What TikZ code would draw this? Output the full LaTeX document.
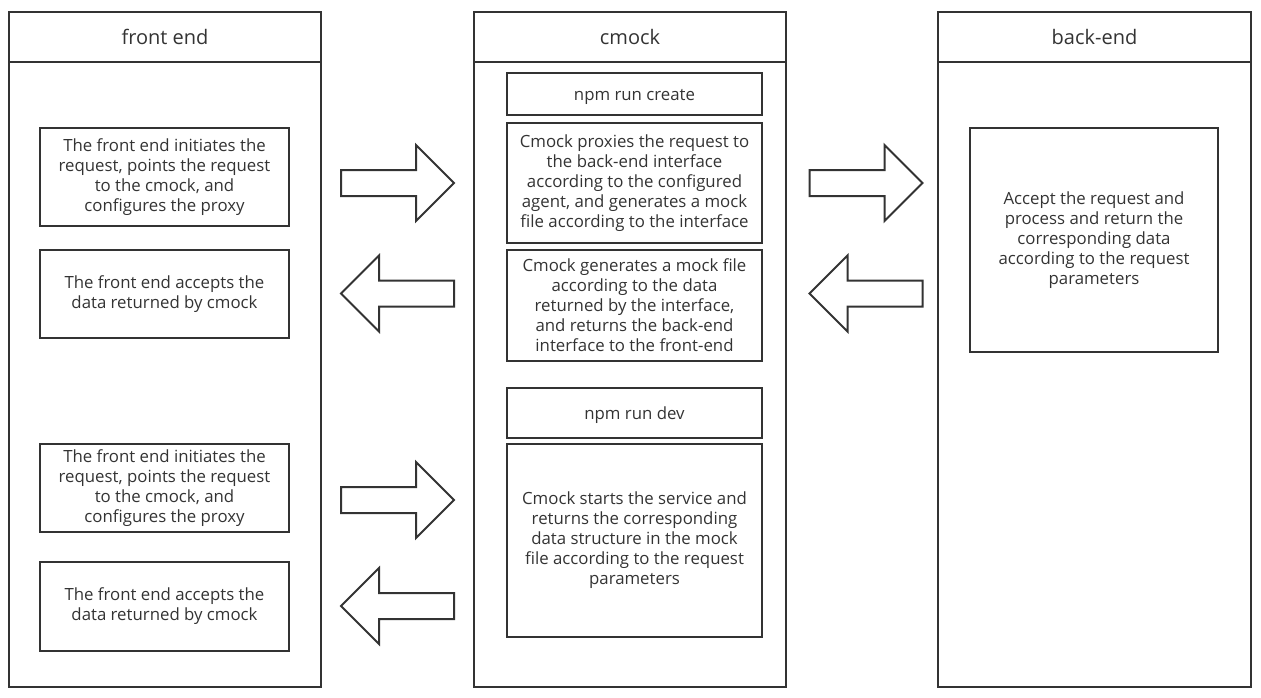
\documentclass[tikz,border=0pt]{standalone}
\usepackage{fontspec}
\setmainfont{Open Sans}
\usetikzlibrary{positioning}
\definecolor{ink}{HTML}{333333}

\tikzset{
  lane/.style={draw=ink, line width=2pt, minimum width=312pt, inner sep=0pt, text=ink,
    font=\fontsize{20}{24}\selectfont},
  stepbox/.style={draw=ink, line width=2pt, align=center, inner sep=0pt, text=ink,
    font=\fontsize{16.8}{20}\selectfont, execute at begin node={\rule{0pt}{17pt}}},
  arrowline/.style={draw=ink, line width=2pt, line join=miter},
  rarrow/.pic={\draw[arrowline] (0,-13) -- (75,-13) -- (75,-38) -- (113,0) -- (75,38) -- (75,13) -- (0,13) -- cycle;},
  larrow/.pic={\draw[arrowline] (0,0) -- (38,-38) -- (38,-13) -- (113,-13) -- (113,13) -- (38,13) -- (38,38) -- cycle;}
}

\begin{document}
\begin{tikzpicture}[x=1pt, y=-1pt]
\useasboundingbox (0,0) rectangle (1261,698);

% lanes
\node[lane, minimum height=50pt] (fronthead) at (165,37) {front end};
\node[lane, minimum height=625pt] (frontbody) at (165,374.5) {};
\node[lane, minimum height=50pt] (mockhead) at (630,37) {cmock};
\node[lane, minimum height=625pt] (mockbody) at (630,374.5) {};
\node[lane, minimum height=50pt, minimum width=313pt] (backhead) at (1094.5,37) {back-end};
\node[lane, minimum height=625pt, minimum width=313pt] (backbody) at (1094.5,374.5) {};

% front end
\node[stepbox, minimum width=249pt, minimum height=98pt] (frontreq) at (164.5,177)
  {The front end initiates the\\request, points the request\\to the cmock, and\\configures the proxy};
\node[stepbox, minimum width=249pt, minimum height=88pt] (frontacc) at (164.5,294)
  {The front end accepts the\\data returned by cmock};
\node[stepbox, minimum width=249pt, minimum height=88pt] (frontreqdev) at (164.5,488)
  {The front end initiates the\\request, points the request\\to the cmock, and\\configures the proxy};
\node[stepbox, minimum width=249pt, minimum height=89pt] (frontaccdev) at (164.5,606.5)
  {The front end accepts the\\data returned by cmock};

% cmock
\node[stepbox, minimum width=255pt, minimum height=42pt] (create) at (634.5,94) {npm run create};
\node[stepbox, minimum width=255pt, minimum height=120pt] (proxy) at (634.5,183)
  {Cmock proxies the request to\\the back-end interface\\according to the configured\\agent, and generates a mock\\file according to the interface};
\node[stepbox, minimum width=255pt, minimum height=111pt] (gen) at (634.5,305.5)
  {Cmock generates a mock file\\according to the data\\returned by the interface,\\and returns the back-end\\interface to the front-end};
\node[stepbox, minimum width=255pt, minimum height=50pt] (dev) at (634.5,413) {npm run dev};
\node[stepbox, minimum width=255pt, minimum height=193pt] (serve) at (634.5,540.5)
  {Cmock starts the service and\\returns the corresponding\\data structure in the mock\\file according to the request\\parameters};

% back-end
\node[stepbox, minimum width=248pt, minimum height=224pt] (process) at (1094,240)
  {Accept the request and\\process and return the\\corresponding data\\according to the request\\parameters};

% block arrows
\pic at (341,183) {rarrow};
\pic at (341,293.5) {larrow};
\pic at (809.5,183) {rarrow};
\pic at (809.5,293.5) {larrow};
\pic at (341,500) {rarrow};
\pic at (341,606) {larrow};
\end{tikzpicture}
\end{document}
